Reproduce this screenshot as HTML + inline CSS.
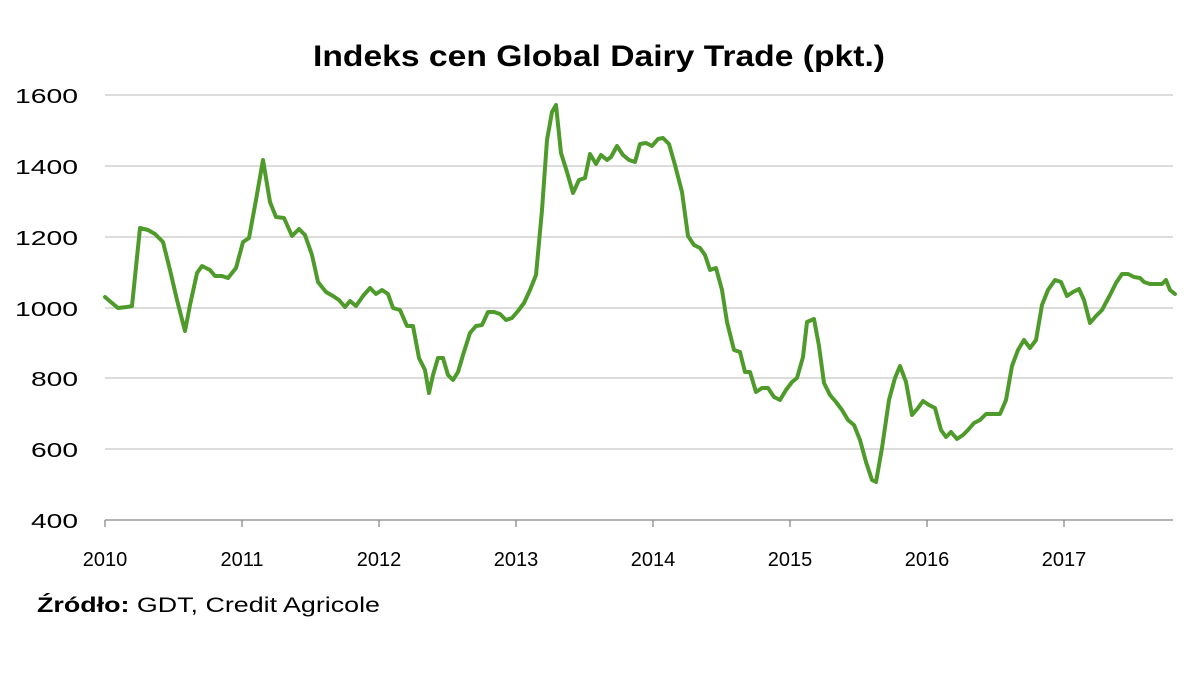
<!DOCTYPE html>
<html><head><meta charset="utf-8"><style>
html,body{margin:0;padding:0;background:#fff;}
svg{display:block;}
text{font-family:"Liberation Sans",sans-serif;fill:#000;}
</style></head><body>
<svg width="1200" height="675" viewBox="0 0 1200 675">
<rect width="1200" height="675" fill="#fff"/>
<text x="313" y="66" font-size="30" font-weight="bold" textLength="572" lengthAdjust="spacingAndGlyphs">Indeks cen Global Dairy Trade (pkt.)</text>
<g stroke="#c8c8c8" stroke-width="1.3">
<line x1="105" y1="95" x2="1173" y2="95"/>
<line x1="105" y1="166" x2="1173" y2="166"/>
<line x1="105" y1="237" x2="1173" y2="237"/>
<line x1="105" y1="308" x2="1173" y2="308"/>
<line x1="105" y1="378" x2="1173" y2="378"/>
<line x1="105" y1="449" x2="1173" y2="449"/>
</g>
<line x1="105" y1="520" x2="1173" y2="520" stroke="#888" stroke-width="1.3"/>
<g stroke="#888" stroke-width="1.3">
<line x1="105" y1="520" x2="105" y2="527"/><line x1="242" y1="520" x2="242" y2="527"/>
<line x1="379" y1="520" x2="379" y2="527"/><line x1="516" y1="520" x2="516" y2="527"/>
<line x1="653" y1="520" x2="653" y2="527"/><line x1="790" y1="520" x2="790" y2="527"/>
<line x1="927" y1="520" x2="927" y2="527"/><line x1="1064" y1="520" x2="1064" y2="527"/>
</g>
<g font-size="20">
<text x="15" y="103" textLength="63" lengthAdjust="spacingAndGlyphs">1600</text>
<text x="15" y="174" textLength="63" lengthAdjust="spacingAndGlyphs">1400</text>
<text x="15" y="245" textLength="63" lengthAdjust="spacingAndGlyphs">1200</text>
<text x="15" y="316" textLength="63" lengthAdjust="spacingAndGlyphs">1000</text>
<text x="31" y="386" textLength="47" lengthAdjust="spacingAndGlyphs">800</text>
<text x="31" y="457" textLength="47" lengthAdjust="spacingAndGlyphs">600</text>
<text x="31" y="528" textLength="47" lengthAdjust="spacingAndGlyphs">400</text>
</g>
<g font-size="20" text-anchor="middle">
<text x="105" y="566">2010</text><text x="242" y="566">2011</text><text x="379" y="566">2012</text>
<text x="516" y="566">2013</text><text x="653" y="566">2014</text><text x="790" y="566">2015</text>
<text x="927" y="566">2016</text><text x="1064" y="566">2017</text>
</g>
<text x="37" y="612" font-size="21" textLength="343" lengthAdjust="spacingAndGlyphs"><tspan font-weight="bold">Źródło:</tspan> GDT, Credit Agricole</text>
<polyline fill="none" stroke="#4e9a2a" stroke-width="4" stroke-linejoin="round" stroke-linecap="round" points="105,297 112,303 118,308 127,307 132,306 140,228 148,230 155,234 163,242 170,270 177,300 185,331 190,305 197,273 202,266 210,270 215,276 222,276 228,278 236,268 243,242 249,238 256,200 263,160 270,202 276,217 284,218 292,236 299,229 305,235 312,255 318,282 326,292 333,296 339,300 345,307 350,301 356,306 363,296 370,288 376,294 382,290 388,294 393,308 400,310 407,326 413,326 419,358 425,370 429,393 433,375 438,358 443,358 448,375 453,380 458,372 463,355 470,333 476,326 482,325 488,312 494,312 500,314 506,320 512,318 518,311 524,303 530,290 536,275 542,210 547,140 552,112 556,105 561,153 567,172 573,193 579,180 585,178 590,154 596,164 601,155 607,160 611,157 617,146 623,155 629,160 635,162 640,144 646,143 652,146 658,139 663,138 669,144 675,165 682,192 688,236 694,245 700,248 705,255 710,270 716,268 722,290 727,322 734,350 740,352 745,372 750,372 756,392 762,388 768,388 774,397 780,400 786,390 792,382 797,378 803,357 807,322 814,319 819,346 824,383 830,395 836,402 842,410 848,420 854,425 860,440 866,462 872,480 876,482 882,448 889,400 895,378 900,366 906,382 912,415 918,408 923,401 929,405 935,408 941,430 946,437 951,432 957,439 963,435 968,430 974,423 980,420 986,414 992,414 1000,414 1006,400 1012,366 1018,350 1024,340 1030,348 1036,340 1042,305 1048,290 1055,280 1061,282 1067,296 1073,292 1079,289 1084,300 1090,323 1096,316 1102,310 1110,295 1116,283 1122,274 1128,274 1134,277 1140,278 1144,282 1150,284 1156,284 1162,284 1166,280 1170,290 1175,294"/>
</svg>
</body></html>
